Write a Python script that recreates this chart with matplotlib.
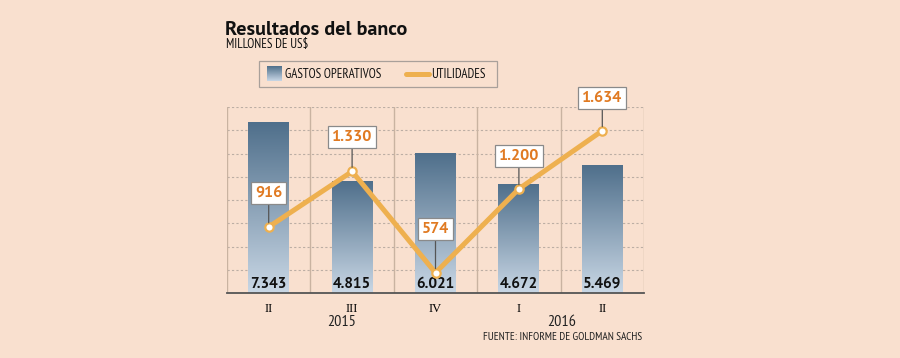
import matplotlib
matplotlib.use("Agg")
import matplotlib.pyplot as plt
import numpy as np
from matplotlib import font_manager as fm
from matplotlib.colors import LinearSegmentedColormap
from matplotlib.patches import Rectangle
from matplotlib.lines import Line2D

# ---- data ----
quarters = ["II", "III", "IV", "I", "II"]
years = ["2015", "2016"]
gastos = [7343, 4815, 6021, 4672, 5469]
gastos_labels = ["7.343", "4.815", "6.021", "4.672", "5.469"]
utilidades = [916, 1330, 574, 1200, 1634]
utilidades_labels = ["916", "1.330", "574", "1.200", "1.634"]

_avail = {f.name for f in fm.fontManager.ttflist}


def pick(cands):
    for c in cands:
        if c in _avail:
            return [c, "DejaVu Sans"]
    return ["DejaVu Sans"]


NARROW = pick(["PT Sans Narrow", "Roboto Condensed", "Asap Condensed", "Archivo Narrow",
               "Liberation Sans Narrow"])
BOLDF = pick(["PT Sans", "Roboto Condensed", "Asap Condensed", "Liberation Sans"])
SERIF = pick(["Liberation Serif", "DejaVu Serif"])

BG = "#f9e0cf"
ORANGE_LINE = "#eeb04f"
ORANGE_TXT = "#e07a22"

fig = plt.figure(figsize=(9, 3.58), dpi=100, facecolor=BG)
W, H = 900, 358


def fx(px):
    return px / W


def fy(py):
    return 1 - py / H


ax = fig.add_axes([fx(227), fy(293), fx(644) - fx(227), fy(107) - fy(293)])
ax.set_facecolor(BG)

# grid lines
for yv in range(1000, 8001, 1000):
    ax.axhline(yv, color="#bcaea4", lw=0.8, ls=(0, (2, 2)), zorder=0)
for xv in np.arange(-0.5, 4.6, 1.0):
    ax.axvline(xv, color="#c9b3a1", lw=1.0, zorder=0)

cmap = LinearSegmentedColormap.from_list("g", ["#c9d7e5", "#4f6f8b"])
grad = np.linspace(0, 1, 256).reshape(-1, 1)
x = np.arange(len(gastos))
bw = 0.49
for xi, v in zip(x, gastos):
    ax.imshow(grad, extent=(xi - bw / 2, xi + bw / 2, 0, v), origin="lower",
              cmap=cmap, aspect="auto", zorder=1)
ax.set_xlim(-0.5, 4.5)
ax.set_ylim(0, 8000)

for xi, lab in zip(x, gastos_labels):
    ax.annotate(lab, (xi, 0), xytext=(0, 9), textcoords="offset pixels",
                ha="center", va="center", fontsize=11, fontweight="bold",
                family=BOLDF, color="#111111", zorder=3)

for s in ["top", "left", "right"]:
    ax.spines[s].set_visible(False)
ax.spines["bottom"].set_color("#555555")
ax.spines["bottom"].set_linewidth(1.3)
ax.set_yticks([])
ax.set_xticks(x)
ax.set_xticklabels(quarters, family=SERIF, fontsize=9)
ax.tick_params(axis="x", length=0, pad=7)

# line axis
ax2 = ax.twinx()
ax2.set_ylim(423, 1811)
ax2.set_xlim(-0.5, 4.5)
ax2.axis("off")
ax2.plot(x, utilidades, color=ORANGE_LINE, lw=3.6, solid_joinstyle="miter",
         marker="o", markersize=6, markerfacecolor="white",
         markeredgecolor=ORANGE_LINE, markeredgewidth=1.6, zorder=4)

offsets = [34, 34, 44, 33, 33]
for xi, v, lab, off in zip(x, utilidades, utilidades_labels, offsets):
    ax2.annotate(lab, (xi, v), xytext=(0, off), textcoords="offset pixels",
                 ha="center", va="center", fontsize=11.5, fontweight="bold",
                 family=BOLDF, color=ORANGE_TXT, zorder=5,
                 bbox=dict(boxstyle="square,pad=0.25", fc="white", ec="#8a8a8a", lw=0.9),
                 arrowprops=dict(arrowstyle="-", color="#555555", lw=0.9,
                                 shrinkA=0, shrinkB=3))

# years & source
fig.text(fx(342), fy(322), years[0], ha="center", va="center", fontsize=11.5,
         family=NARROW, color="#222222")
fig.text(fx(562), fy(322), years[1], ha="center", va="center", fontsize=11.5,
         family=NARROW, color="#222222")
fig.text(fx(642), fy(337), "FUENTE: INFORME DE GOLDMAN SACHS", ha="right", va="center",
         fontsize=8.2, family=NARROW, color="#222222")

# title
fig.text(fx(225), fy(35), "Resultados del banco", ha="left", va="baseline",
         fontsize=14.5, fontweight="bold", family=BOLDF, color="#111111")
fig.text(fx(226), fy(48), "MILLONES DE US$", ha="left", va="baseline",
         fontsize=9.3, family=NARROW, color="#111111")

# legend (manual)
fig.patches.append(Rectangle((fx(259), fy(87)), fx(497) - fx(259), fy(61) - fy(87),
                             transform=fig.transFigure, fc=BG, ec="#a9a09a", lw=0.9,
                             zorder=-1))
lax = fig.add_axes([fx(267), fy(81), fx(282) - fx(267), fy(66) - fy(81)], zorder=5)
lax.imshow(grad, cmap=cmap, origin="lower", aspect="auto", extent=(0, 1, 0, 1))
lax.axis("off")
fig.text(fx(285), fy(74), "GASTOS OPERATIVOS", ha="left", va="center", fontsize=9.3,
         family=NARROW, color="#111111")
fig.lines.append(Line2D([fx(406), fx(429)], [fy(74), fy(74)], transform=fig.transFigure,
                        color=ORANGE_LINE, lw=3.6, solid_capstyle="round"))
fig.text(fx(431), fy(74), "UTILIDADES", ha="left", va="center", fontsize=9.3,
         family=NARROW, color="#111111")

fig.savefig("out.png", dpi=100, facecolor=BG)
